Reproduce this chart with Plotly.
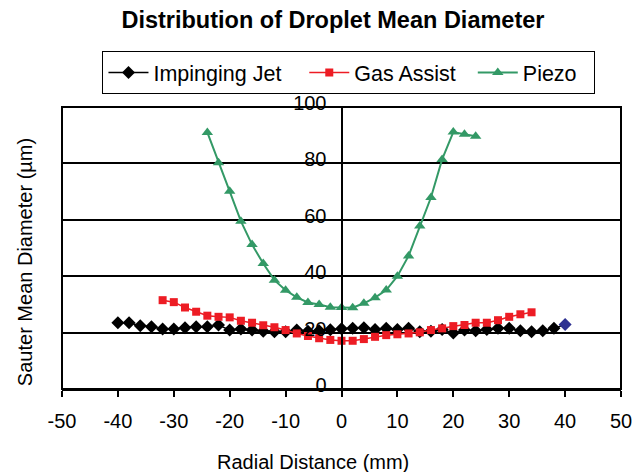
import plotly.graph_objects as go

# ---- data ----
jet_x = list(range(-40, 42, 2))
jet_y = [23.5, 23.5, 22.4, 22.1, 21.3, 21.3, 21.7, 22.1, 22.1, 22.7,
         20.9, 21.3, 20.9, 20.5, 20.3, 20.3, 20.9, 20.5, 20.7, 21.0,
         21.4, 21.5, 21.7, 21.1, 21.5, 21.1, 21.5, 20.3, 20.5, 21.1,
         19.9, 20.9, 20.7, 21.1, 21.5, 21.5, 20.7, 20.3, 20.7, 21.5,
         22.9]

gas_x = list(range(-32, 36, 2))
gas_y = [31.5, 30.8, 28.9, 27.4, 26.0, 25.6, 25.4, 24.2, 23.5, 22.6,
         21.9, 20.9, 19.7, 18.8, 18.0, 17.4, 17.1, 17.1, 17.7, 18.5,
         19.1, 19.4, 19.7, 20.1, 20.9, 21.5, 22.3, 22.7, 23.5, 23.5,
         24.4, 25.6, 26.5, 27.2]

piezo_x = list(range(-24, 26, 2))
piezo_y = [91.0, 80.2, 70.1, 59.5, 51.2, 44.5, 38.6, 35.0, 32.5, 30.7,
           30.0, 29.0, 28.9, 28.8, 30.4, 32.4, 35.1, 40.0, 47.2, 57.8,
           67.9, 81.4, 91.1, 90.3, 89.6]

x_ticks = list(range(-50, 60, 10))
x_tick_labels = ["-50", "-40", "-30", "-20", "-10", "0",
                 "10", "20", "30", "40", "50"]
y_ticks = list(range(0, 120, 20))
y_tick_labels = ["0", "20", "40", "60", "80", "100"]

series_names = ["Impinging Jet", "Gas Assist", "Piezo"]

FONT = "Liberation Sans, Arial, sans-serif"
NB = "\u00a0"
legend_pad = [3, 2, 2]  # non-breaking spaces after each legend label (spacing)

jet_colors = ["black"] * (len(jet_x) - 1) + ["#2E3192"]

fig = go.Figure()
fig.add_trace(go.Scatter(
    x=jet_x, y=jet_y, name=series_names[0] + NB * legend_pad[0],
    mode="lines+markers",
    line=dict(color="black", width=1.5),
    marker=dict(symbol="diamond", size=10, color=jet_colors),
))
fig.add_trace(go.Scatter(
    x=gas_x, y=gas_y, name=series_names[1] + NB * legend_pad[1],
    mode="lines+markers",
    line=dict(color="#ED1C24", width=1.5),
    marker=dict(symbol="square", size=8, color="#ED1C24"),
))
fig.add_trace(go.Scatter(
    x=piezo_x, y=piezo_y, name=series_names[2] + NB * legend_pad[2],
    mode="lines+markers",
    line=dict(color="#339966", width=2),
    marker=dict(symbol="triangle-up", size=10, color="#339966"),
))

fig.update_layout(
    width=644, height=472,
    margin=dict(l=62, r=21, t=107, b=83),
    paper_bgcolor="white", plot_bgcolor="white",
    font=dict(family=FONT, color="black", size=20),
    title=dict(text="<b>Distribution of Droplet Mean Diameter</b>",
               x=0.517, xanchor="center", y=1 - 20 / 472, yanchor="middle",
               font=dict(size=23.5, family=FONT, color="black")),
    showlegend=True,
    legend=dict(orientation="h", x=(350 - 62) / 561, xanchor="center",
                y=1 + (107 - 51) / 282, yanchor="top",
                itemwidth=40,
                bordercolor="black", borderwidth=1, bgcolor="white",
                font=dict(size=21.5, family=FONT, color="black")),
    xaxis=dict(range=[-50, 50], tickvals=x_ticks, ticktext=x_tick_labels,
               showgrid=False,
               zeroline=False, showline=True, linecolor="black", linewidth=2,
               ticks="outside", ticklen=6, tickwidth=1.5, tickcolor="black",
               ticklabelstandoff=7, tickfont=dict(size=20)),
    yaxis=dict(range=[0, 100], tickvals=y_ticks, ticktext=y_tick_labels,
               showgrid=True,
               gridcolor="black", gridwidth=2, zeroline=False,
               showline=True, linecolor="black", linewidth=2,
               anchor="free", position=0.5,
               ticks="outside", ticklen=6, tickwidth=1.5, tickcolor="black",
               ticklabelstandoff=4, ticklabelshift=-4,
               tickfont=dict(size=20)),
    shapes=[dict(type="rect", xref="paper", yref="paper", x0=0, x1=1,
                 y0=0, y1=1, line=dict(color="black", width=2),
                 layer="below")],
    annotations=[
        dict(text="Radial Distance (mm)", xref="paper", yref="paper",
             x=(313.5 - 62) / 561, y=(389 - 462) / 282, xanchor="center",
             yanchor="middle", showarrow=False,
             font=dict(size=20, family=FONT, color="black")),
        dict(text="Sauter Mean Diameter (µm)", xref="paper", yref="paper",
             x=(25 - 62) / 561, y=(389 - 262) / 282, xanchor="center",
             yanchor="middle", textangle=-90, showarrow=False,
             font=dict(size=20, family=FONT, color="black")),
    ],
)

fig.write_html("out.html",
               config={"displayModeBar": False},
               post_script="document.body.style.margin='0';"
                           "document.body.style.overflow='hidden';")
